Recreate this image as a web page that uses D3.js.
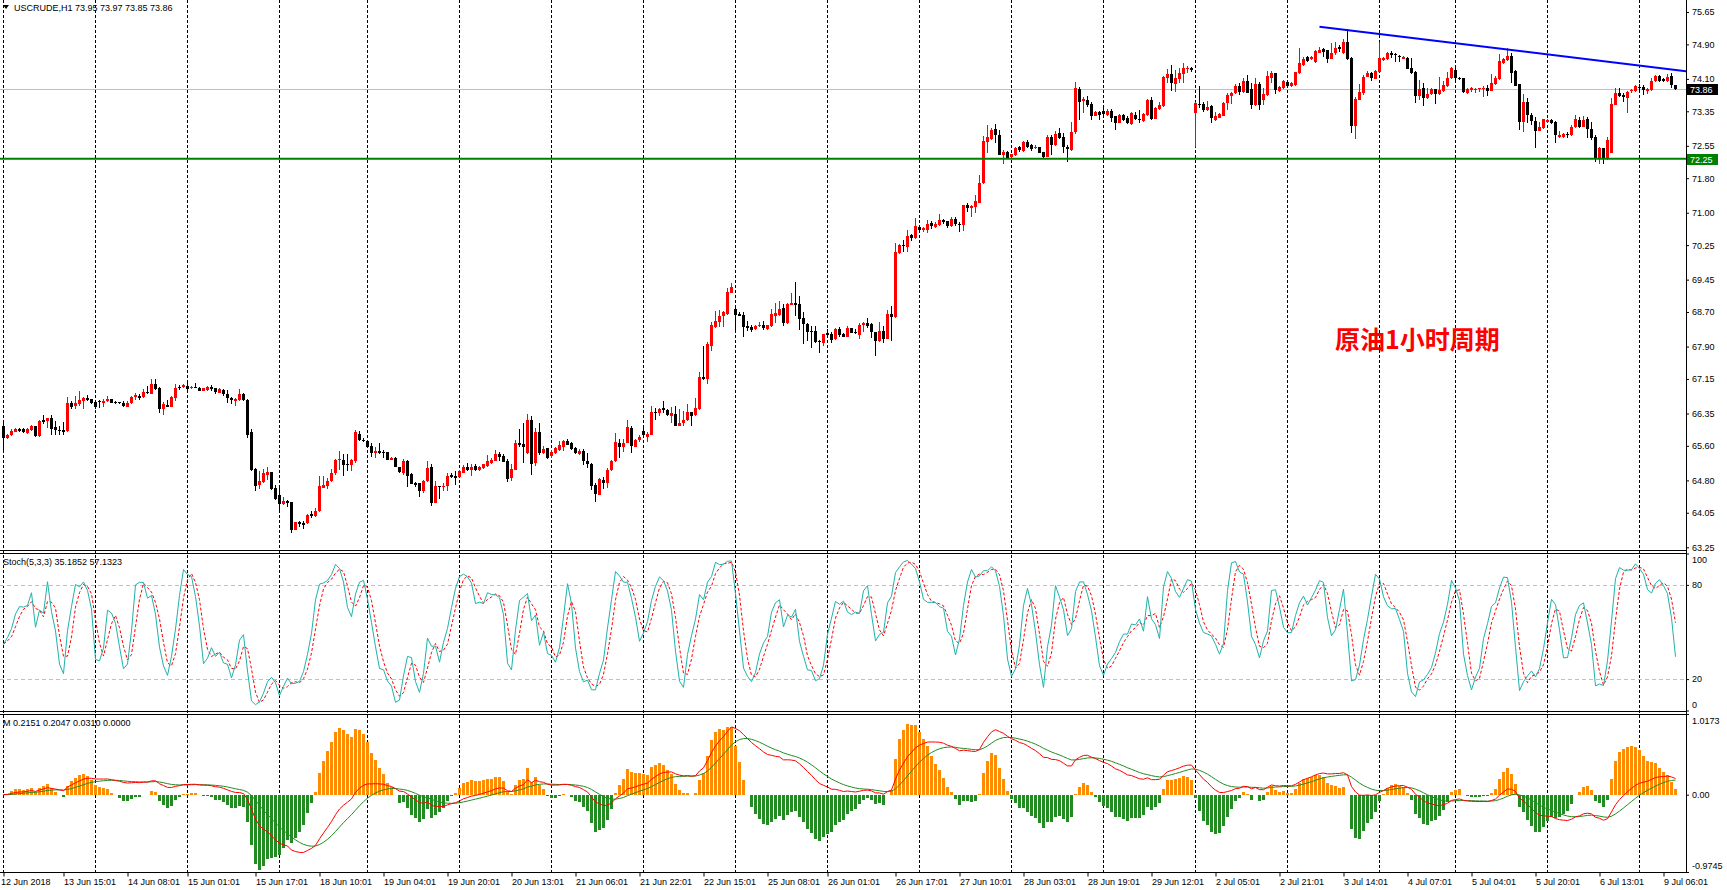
<!DOCTYPE html>
<html>
<head>
<meta charset="utf-8">
<title>USCRUDE H1</title>
<script src="https://cdn.jsdelivr.net/npm/d3@7"></script>
<style>
  html, body { margin: 0; padding: 0; background: #fff; }
  svg { display: block; font-family: "Liberation Sans", Arial, sans-serif; }
</style>
</head>
<body>
<svg id="chart" width="1727" height="890"></svg>
<script>
// Hourly bars (bar 0 = 12 Jun 2018, last = 9 Jul).
var symbol = 'USCRUDE,H1';

var opens = [
  66.05,65.79,65.84,65.92,65.99,65.99,65.90,65.97,66.05,65.82,
  66.20,66.17,66.24,66.04,65.97,65.97,65.94,66.60,66.53,66.57,
  66.65,66.72,66.69,66.62,66.65,66.60,66.65,66.68,66.62,66.61,
  66.60,66.51,66.60,66.73,66.76,66.74,66.85,66.81,67.03,66.94,
  66.46,66.55,66.51,66.72,66.97,66.97,66.99,66.93,66.97,66.94,
  66.88,66.89,66.97,66.93,66.83,66.90,66.79,66.72,66.65,66.67,
  66.81,66.67,65.91,65.06,64.70,64.77,64.93,65.00,64.62,64.46,
  64.25,64.32,64.30,63.64,63.83,63.82,63.81,64.03,63.98,64.08,
  64.63,64.68,64.78,64.96,65.27,65.27,65.17,65.15,65.26,65.88,
  65.74,65.71,65.59,65.43,65.49,65.46,65.45,65.27,65.33,65.11,
  64.98,65.25,64.94,64.74,64.73,64.56,64.78,65.10,64.28,64.67,
  64.65,64.68,64.92,64.90,64.87,64.98,65.12,65.04,65.13,65.04,
  65.09,65.14,65.20,65.26,65.42,65.36,65.25,64.85,65.04,65.67,
  65.65,65.43,66.20,65.21,65.92,65.43,65.54,65.36,65.43,65.50,
  65.58,65.71,65.67,65.56,65.41,65.49,65.26,65.19,64.69,64.46,
  64.82,64.74,65.03,65.24,65.66,65.58,65.67,66.01,65.58,65.73,
  65.94,65.81,65.86,66.39,66.37,66.48,66.43,66.29,66.34,66.07,
  66.12,66.20,66.38,66.31,66.45,67.19,67.15,67.91,68.36,68.48,
  68.61,68.65,69.15,68.77,68.65,68.63,68.38,68.36,68.30,68.37,
  68.40,68.30,68.38,68.61,68.64,68.79,68.44,68.87,68.91,68.89,
  68.57,68.43,68.27,68.26,68.03,67.99,68.21,68.19,68.07,68.31,
  68.18,68.13,68.32,68.24,68.17,68.39,68.45,68.42,68.24,68.03,
  68.26,68.08,68.65,68.59,70.07,70.26,70.21,70.48,70.42,70.68,
  70.60,70.60,70.77,70.67,70.72,70.83,70.80,70.70,70.85,70.75,
  70.72,71.18,71.10,71.14,71.23,71.68,72.65,72.70,72.94,72.80,
  72.34,72.40,72.28,72.33,72.52,72.44,72.63,72.58,72.50,72.52,
  72.41,72.30,72.76,72.56,72.84,72.75,72.53,72.45,72.87,73.87,
  73.59,73.61,73.51,73.24,73.33,73.35,73.27,73.36,73.23,73.09,
  73.26,73.19,73.06,73.26,73.18,73.13,73.26,73.60,73.17,73.40,
  73.47,74.11,74.21,73.98,74.09,74.21,74.34,74.35,73.32,73.53,
  73.53,73.38,73.47,73.15,73.20,73.25,73.55,73.71,73.77,73.94,
  73.80,74.05,73.87,73.50,73.98,73.60,73.73,74.11,74.23,73.82,
  73.88,74.04,73.94,73.96,74.23,74.42,74.60,74.55,74.50,74.71,
  74.79,74.77,74.57,74.69,74.85,74.69,74.95,74.58,73.02,73.61,
  73.77,74.15,74.24,74.10,74.27,74.54,74.56,74.71,74.67,74.63,
  74.56,74.59,74.35,74.27,73.70,73.88,73.65,73.74,73.86,73.74,
  73.82,73.94,74.11,74.31,74.13,74.11,73.77,73.84,73.84,73.86,
  73.86,73.90,73.83,73.98,74.10,74.48,74.54,74.64,74.28,73.98,
  73.10,73.57,73.26,73.13,72.90,72.97,73.11,73.15,73.11,72.76,
  72.76,72.82,72.79,72.98,73.15,72.99,73.16,72.95,72.75,72.24,
  72.49,72.24,72.39,73.50,73.78,73.73,73.65,73.81,73.83,73.92,
  73.92,73.83,73.84,74.06,74.17,74.09,74.06,74.17,73.95
];

var highs = [
  66.20,65.87,65.99,66.02,66.01,66.01,66.02,66.08,66.07,66.20,
  66.31,66.25,66.32,66.17,66.05,66.16,66.74,66.63,66.76,66.87,
  66.74,66.78,66.69,66.65,66.66,66.68,66.76,66.69,66.65,66.62,
  66.63,66.65,66.76,66.82,66.79,66.91,66.99,67.15,67.15,66.96,
  66.61,66.66,66.76,67.03,67.01,67.03,67.05,66.99,67.06,66.96,
  66.95,66.99,67.00,66.95,66.93,66.92,66.89,66.74,66.72,66.92,
  66.83,66.69,66.00,65.08,65.02,65.06,65.10,65.00,64.69,64.69,
  64.41,64.35,64.30,63.84,63.87,63.86,64.02,64.08,64.17,64.90,
  64.91,64.85,65.06,65.29,65.49,65.40,65.41,65.29,65.96,65.95,
  65.78,65.74,65.67,65.57,65.66,65.50,65.46,65.35,65.35,65.12,
  65.30,65.27,64.96,64.76,64.75,64.81,65.26,65.17,64.78,64.67,
  64.74,64.96,64.96,65.02,65.05,65.16,65.21,65.19,65.17,65.14,
  65.19,65.39,65.33,65.50,65.45,65.40,65.30,65.17,65.73,65.99,
  66.12,66.34,66.29,66.01,66.14,65.60,65.56,65.50,65.58,65.71,
  65.73,65.77,65.68,65.57,65.52,65.52,65.44,65.21,64.75,64.85,
  64.89,65.09,65.27,65.89,65.75,65.77,66.20,66.07,65.77,65.85,
  66.08,65.93,66.53,66.48,66.47,66.64,66.45,66.51,66.53,66.45,
  66.40,66.58,66.39,66.72,67.30,67.91,68.01,68.48,68.72,68.74,
  68.72,69.25,69.38,68.84,68.69,68.69,68.49,68.40,68.40,68.48,
  68.49,68.41,68.77,68.91,68.96,68.89,68.92,69.15,69.40,69.06,
  68.69,68.44,68.38,68.38,68.05,68.20,68.30,68.24,68.32,68.35,
  68.22,68.38,68.34,68.31,68.44,68.48,68.56,68.45,68.24,68.48,
  68.38,68.75,68.85,70.29,70.27,70.37,70.60,70.50,70.88,70.72,
  70.68,70.83,70.82,70.79,70.97,70.85,70.81,70.89,70.91,70.79,
  71.19,71.23,71.19,71.41,71.87,72.78,73.03,72.96,73.06,72.91,
  72.45,72.42,72.37,72.52,72.55,72.67,72.69,72.59,72.57,72.53,
  72.41,72.80,72.80,72.89,72.96,72.84,72.57,73.10,74.03,73.92,
  73.69,73.70,73.57,73.36,73.36,73.44,73.40,73.40,73.23,73.29,
  73.29,73.23,73.34,73.34,73.38,73.32,73.64,73.69,73.44,73.57,
  74.17,74.32,74.42,74.31,74.35,74.46,74.41,74.38,73.57,73.94,
  73.57,73.59,73.50,73.33,73.30,73.57,73.78,73.80,73.98,74.00,
  74.11,74.19,74.00,74.11,74.04,73.90,74.29,74.29,74.24,73.94,
  74.07,74.07,74.02,74.27,74.81,74.61,74.63,74.64,74.77,74.85,
  74.81,74.78,74.94,74.95,74.89,75.02,75.25,74.60,73.67,73.99,
  74.19,74.28,74.27,74.30,74.96,74.61,74.73,74.75,74.71,74.65,
  74.64,74.61,74.58,74.29,74.07,74.00,73.88,73.90,73.86,74.15,
  74.05,74.27,74.38,74.42,74.15,74.13,73.88,73.92,73.90,73.90,
  73.94,73.96,74.21,74.17,74.68,74.58,74.81,74.69,74.31,73.99,
  73.75,73.65,73.30,73.22,73.11,73.18,73.16,73.17,73.12,72.89,
  72.85,72.88,73.03,73.26,73.21,73.23,73.21,73.11,72.80,72.53,
  72.51,72.76,73.65,73.90,73.90,73.77,73.83,73.87,73.96,73.98,
  73.96,73.90,74.13,74.19,74.18,74.12,74.21,74.24,73.97
];

var lows = [
  65.49,65.77,65.83,65.91,65.93,65.90,65.88,65.95,65.81,65.81,
  66.10,66.01,65.85,65.85,65.86,65.85,65.93,66.45,66.45,66.53,
  66.45,66.64,66.57,66.45,66.48,66.51,66.61,66.59,66.57,66.58,
  66.50,66.49,66.58,66.67,66.67,66.72,66.81,66.79,66.89,66.35,
  66.32,66.49,66.50,66.64,66.90,66.94,66.89,66.91,66.93,66.86,
  66.87,66.88,66.88,66.79,66.82,66.76,66.60,66.58,66.53,66.65,
  66.64,65.79,65.02,64.56,64.61,64.75,64.81,64.58,64.35,64.08,
  64.22,64.19,63.57,63.64,63.73,63.68,63.79,63.93,63.95,64.06,
  64.62,64.59,64.76,64.93,65.04,64.91,65.02,65.02,65.20,65.71,
  65.69,65.57,65.35,65.33,65.40,65.31,65.27,65.27,65.10,64.96,
  64.93,64.65,64.71,64.64,64.41,64.50,64.76,64.21,64.27,64.37,
  64.55,64.56,64.86,64.69,64.87,64.96,65.01,64.91,65.02,65.02,
  65.07,65.10,65.19,65.24,65.25,65.23,64.77,64.79,65.03,65.57,
  65.20,65.41,64.92,65.14,65.39,65.41,65.29,65.33,65.40,65.49,
  65.49,65.61,65.50,65.40,65.38,65.16,65.08,64.58,64.30,64.46,
  64.59,64.62,65.01,65.23,65.33,65.46,65.66,65.43,65.57,65.70,
  65.81,65.70,65.84,66.20,66.30,66.37,66.28,66.14,66.06,66.06,
  66.07,66.18,66.07,66.29,66.43,67.12,67.04,67.80,68.33,68.36,
  68.36,68.63,69.13,68.25,68.60,68.13,68.26,68.24,68.28,68.35,
  68.28,68.28,68.36,68.45,68.61,68.38,68.42,68.86,68.61,68.28,
  67.95,68.03,67.87,67.99,67.76,67.92,68.13,67.99,68.05,68.13,
  68.11,68.11,68.21,68.19,68.07,68.24,68.32,68.10,67.69,68.01,
  67.99,68.07,68.04,68.57,70.04,70.10,70.10,70.35,70.39,70.56,
  70.56,70.54,70.62,70.65,70.70,70.75,70.65,70.68,70.70,70.56,
  70.58,71.02,70.91,71.00,71.22,71.67,72.38,72.69,72.61,72.33,
  72.14,72.25,72.26,72.32,72.41,72.41,72.49,72.44,72.47,72.38,
  72.26,72.28,72.34,72.55,72.70,72.39,72.18,72.44,72.82,73.15,
  73.30,73.46,73.15,73.23,73.15,73.24,73.25,73.11,72.92,73.07,
  73.12,73.06,73.03,73.15,73.09,73.10,73.25,73.15,73.16,73.38,
  73.46,74.00,73.82,73.80,74.01,74.01,74.23,74.27,72.53,73.42,
  73.33,73.36,73.09,73.13,73.19,73.24,73.38,73.51,73.74,73.73,
  73.77,73.77,73.40,73.47,73.38,73.50,73.71,74.00,73.74,73.80,
  73.87,73.90,73.92,73.94,74.21,74.41,74.50,74.53,74.48,74.69,
  74.61,74.46,74.56,74.65,74.73,74.68,74.54,72.85,72.71,73.60,
  73.73,74.14,74.06,74.09,74.25,74.52,74.54,74.59,74.50,74.50,
  74.55,74.32,74.21,73.55,73.61,73.47,73.63,73.73,73.53,73.73,
  73.80,73.92,74.10,74.06,74.07,73.78,73.75,73.80,73.78,73.80,
  73.67,73.70,73.81,73.95,74.07,74.45,74.52,74.00,73.94,72.92,
  72.88,73.07,73.03,72.51,72.89,72.95,73.07,73.05,72.62,72.74,
  72.74,72.74,72.78,72.96,72.96,72.98,72.72,72.68,72.18,72.14,
  72.14,72.22,72.38,73.49,73.67,73.57,73.32,73.78,73.80,73.77,
  73.73,73.74,73.83,74.04,74.04,74.04,74.04,73.90,73.85
];

var closes = [
  65.79,65.85,65.94,65.99,65.95,65.91,66.00,66.05,65.82,66.18,
  66.15,66.24,65.99,65.97,65.95,65.93,66.60,66.51,66.60,66.66,
  66.72,66.67,66.59,66.50,66.63,66.65,66.69,66.60,66.59,66.59,
  66.52,66.60,66.73,66.78,66.72,66.85,66.82,67.03,66.91,66.46,
  66.57,66.51,66.74,66.94,66.93,67.02,66.92,66.97,66.96,66.88,
  66.94,66.96,66.92,66.84,66.91,66.79,66.70,66.66,66.69,66.81,
  66.66,65.86,65.03,64.68,64.79,64.96,65.00,64.59,64.36,64.26,
  64.32,64.27,63.66,63.84,63.78,63.77,64.00,63.97,64.09,64.67,
  64.69,64.79,64.97,65.27,65.29,65.16,65.15,65.27,65.91,65.74,
  65.71,65.58,65.43,65.48,65.44,65.44,65.27,65.33,65.11,64.99,
  65.25,64.91,64.72,64.69,64.55,64.79,65.09,64.28,64.67,64.65,
  64.68,64.90,64.88,64.86,65.02,65.12,65.04,65.11,65.04,65.12,
  65.17,65.25,65.27,65.41,65.35,65.23,64.83,65.06,65.66,65.63,
  65.57,66.20,65.18,65.92,65.43,65.53,65.33,65.45,65.56,65.62,
  65.71,65.63,65.53,65.44,65.49,65.26,65.18,64.67,64.48,64.84,
  64.73,65.05,65.25,65.69,65.58,65.67,66.04,65.60,65.73,65.81,
  65.84,65.88,66.38,66.37,66.45,66.43,66.32,66.36,66.07,66.14,
  66.21,66.39,66.30,66.48,67.19,67.16,67.96,68.40,68.49,68.61,
  68.71,69.17,69.29,68.62,68.60,68.36,68.34,68.28,68.38,68.39,
  68.32,68.40,68.66,68.68,68.77,68.45,68.89,68.90,68.87,68.55,
  68.43,68.24,68.23,68.01,68.00,68.19,68.17,68.05,68.31,68.17,
  68.13,68.34,68.22,68.21,68.40,68.44,68.38,68.24,68.03,68.26,
  68.08,68.65,68.59,70.10,70.25,70.23,70.46,70.41,70.69,70.60,
  70.65,70.74,70.69,70.75,70.83,70.79,70.69,70.85,70.73,70.73,
  71.18,71.12,71.15,71.27,71.69,72.66,72.75,72.92,72.79,72.34,
  72.41,72.26,72.35,72.50,72.45,72.65,72.53,72.47,72.53,72.39,
  72.28,72.75,72.57,72.82,72.74,72.53,72.48,72.87,73.88,73.57,
  73.64,73.50,73.25,73.33,73.26,73.28,73.36,73.20,73.09,73.26,
  73.15,73.07,73.30,73.16,73.15,73.29,73.60,73.17,73.43,73.50,
  74.15,74.21,74.00,74.11,74.24,74.36,74.36,74.31,73.55,73.51,
  73.38,73.46,73.19,73.23,73.28,73.55,73.73,73.78,73.94,73.80,
  74.05,73.78,73.50,73.98,73.50,73.75,74.17,74.23,73.84,73.91,
  74.05,73.94,74.01,74.25,74.46,74.55,74.52,74.61,74.75,74.78,
  74.72,74.56,74.71,74.81,74.80,74.96,74.56,73.02,73.63,73.79,
  74.15,74.24,74.11,74.28,74.58,74.58,74.71,74.65,74.65,74.60,
  74.61,74.33,74.23,73.70,73.87,73.65,73.74,73.86,73.74,73.84,
  73.96,74.11,74.35,74.11,74.11,73.79,73.86,73.89,73.87,73.88,
  73.90,73.83,74.01,74.11,74.52,74.56,74.63,74.23,73.94,73.10,
  73.56,73.26,73.12,72.90,72.99,73.16,73.15,73.09,72.79,72.81,
  72.82,72.79,72.99,73.16,72.98,73.15,72.95,72.73,72.24,72.49,
  72.24,72.68,73.52,73.78,73.70,73.67,73.80,73.84,73.94,73.88,
  73.84,73.86,74.06,74.17,74.06,74.06,74.14,73.96,73.86
];

// Day separators (bar index) and time-axis labels.
var gridBars = [0, 23, 46, 69, 91, 114, 137, 160, 183, 206, 229, 252, 275, 298, 321, 344, 363, 386, 409];
var timeBars = [0, 15, 31, 46, 63, 79, 95, 111, 127, 143, 159, 175, 191, 206, 223, 239, 255, 271, 287, 303, 319, 335, 351, 367, 383, 399, 415];
var timeLabels = ['12 Jun 2018', '13 Jun 15:01', '14 Jun 08:01', '15 Jun 01:01', '15 Jun 17:01', '18 Jun 10:01',
  '19 Jun 04:01', '19 Jun 20:01', '20 Jun 13:01', '21 Jun 06:01', '21 Jun 22:01', '22 Jun 15:01', '25 Jun 08:01',
  '26 Jun 01:01', '26 Jun 17:01', '27 Jun 10:01', '28 Jun 03:01', '28 Jun 19:01', '29 Jun 12:01', '2 Jul 05:01',
  '2 Jul 21:01', '3 Jul 14:01', '4 Jul 07:01', '5 Jul 04:01', '5 Jul 20:01', '6 Jul 13:01', '9 Jul 06:01'];

var priceTicks = [75.65, 74.90, 74.10, 73.35, 72.55, 71.80, 71.00, 70.25, 69.45, 68.70, 67.90, 67.15, 66.35, 65.60, 64.80, 64.05, 63.25];
var stochTicks = [100, 80, 20, 0];
var stochLevels = [80, 20];
var macdTicks = [1.0173, 0, -0.9745];

var supportLevel = 72.25;
var trendPoints = [{ bar: 329, price: 75.31 }, { bar: 376, price: 74.78 }];
var stochLegend = 'Stoch(5,3,3) 35.1852 57.1323';
var macdLegend = 'M 0.2151 0.2047 0.0310 0.0000';
var note = '原油1小时周期';

(function () {
    'use strict';

    var AXIS_X = 1686;
    var BAR = 4;
    var FONT = 9;
    var HIST_GAIN = 3.7;   // histogram is drawn larger than the line gap

    var main = { top: 0, bottom: 550 };
    var sto = { top: 553, bottom: 711 };
    var mac = { top: 714, bottom: 872 };

    var n = closes.length;
    var last = n - 1;
    var svg = d3.select('#chart');

    var x = d3.scaleLinear().domain([0, last]).range([3.5, 3.5 + BAR * last]);
    var y = d3.scaleLinear().domain([63.25, 75.65]).range([547.3, 12]);
    var yS = d3.scaleLinear().domain([0, 100]).range([sto.bottom - 0.5, sto.top + 0.5]);
    var yM = d3.scaleLinear().domain([-0.9745, 1.0173]).range([mac.bottom, mac.top]);

    // ---- indicators ------------------------------------------------------
    function stochastic(kPeriod, slowing, dPeriod) {
        var hh = [], ll = [], k = [], d = [];
        for (var i = 0; i < n; i++) {
            var from = Math.max(0, i - kPeriod + 1);
            hh.push(d3.max(highs.slice(from, i + 1)));
            ll.push(d3.min(lows.slice(from, i + 1)));
        }
        for (i = 0; i < n; i++) {
            var num = 0, den = 0;
            for (var j = Math.max(0, i - slowing + 1); j <= i; j++) {
                num += closes[j] - ll[j];
                den += hh[j] - ll[j];
            }
            k.push(den ? num / den * 100 : 100);
        }
        for (i = 0; i < n; i++) {
            d.push(d3.mean(k.slice(Math.max(0, i - dPeriod + 1), i + 1)));
        }
        return { k: k, d: d };
    }

    function ema(values, period) {
        var a = 2 / (period + 1), out = [], prev = values[0];
        values.forEach(function (v) {
            prev = prev + a * (v - prev);
            out.push(prev);
        });
        return out;
    }

    var st = stochastic(5, 3, 3);
    var e12 = ema(closes, 12), e26 = ema(closes, 26);
    var dif = closes.map(function (c, i) { return e12[i] - e26[i]; });
    var dea = ema(dif, 9);
    var hist = dif.map(function (v, i) { return HIST_GAIN * (v - dea[i]); });

    // ---- clips ----------------------------------------------------------
    var defs = svg.append('defs');
    [['clip-main', main], ['clip-sto', sto], ['clip-mac', mac]].forEach(function (c) {
        defs.append('clipPath').attr('id', c[0]).append('rect')
            .attr('x', 0).attr('y', c[1].top).attr('width', AXIS_X).attr('height', c[1].bottom - c[1].top);
    });

    // ---- vertical day grid (behind everything) --------------------------
    svg.append('g').selectAll('line').data(gridBars).join('line')
        .attr('x1', function (d) { return x(d); }).attr('x2', function (d) { return x(d); })
        .attr('y1', 0).attr('y2', mac.bottom)
        .attr('stroke', '#000').attr('stroke-dasharray', '3,2')
        .attr('shape-rendering', 'crispEdges');

    // ---- main pane ------------------------------------------------------
    var gMain = svg.append('g').attr('clip-path', 'url(#clip-main)');

    gMain.append('line')
        .attr('x1', 0).attr('x2', AXIS_X)
        .attr('y1', Math.round(y(closes[last])) + 0.5).attr('y2', Math.round(y(closes[last])) + 0.5)
        .attr('stroke', '#c0c0c0').attr('shape-rendering', 'crispEdges');

    var bars = d3.range(n);
    var candle = gMain.append('g').attr('shape-rendering', 'crispEdges')
        .selectAll('g').data(bars).join('g')
        .attr('fill', function (i) { return closes[i] >= opens[i] ? '#ff0000' : '#000'; })
        .attr('stroke', function (i) { return closes[i] >= opens[i] ? '#ff0000' : '#000'; });
    candle.append('line')
        .attr('x1', function (i) { return x(i); }).attr('x2', function (i) { return x(i); })
        .attr('y1', function (i) { return y(highs[i]); }).attr('y2', function (i) { return y(lows[i]); });
    candle.append('rect')
        .attr('stroke', 'none')
        .attr('x', function (i) { return x(i) - 1.5; })
        .attr('width', 3)
        .attr('y', function (i) { return y(Math.max(opens[i], closes[i])); })
        .attr('height', function (i) { return Math.max(1, Math.abs(y(opens[i]) - y(closes[i]))); });

    gMain.append('line')
        .attr('x1', 0).attr('x2', AXIS_X)
        .attr('y1', y(supportLevel)).attr('y2', y(supportLevel))
        .attr('stroke', '#008000').attr('stroke-width', 2);

    var p0 = trendPoints[0], p1 = trendPoints[1];
    var slope = (p1.price - p0.price) / (p1.bar - p0.bar);
    var endBar = x.invert(AXIS_X);
    gMain.append('line')
        .attr('x1', x(p0.bar)).attr('y1', y(p0.price))
        .attr('x2', x(endBar)).attr('y2', y(p0.price + slope * (endBar - p0.bar)))
        .attr('stroke', '#0000ff').attr('stroke-width', 2);

    svg.append('text')
        .attr('x', 1335).attr('y', 349)
        .attr('font-family', '"Noto Sans CJK SC", sans-serif')
        .attr('font-weight', 'bold').attr('font-size', 25)
        .attr('fill', '#ff0000')
        .text(note);

    svg.append('path').attr('d', 'M3,5 L9,5 L6,9 Z').attr('fill', '#000');
    svg.append('text')
        .attr('x', 14).attr('y', 11).attr('font-size', FONT)
        .text(symbol + '  ' + [opens[last], highs[last], lows[last], closes[last]].map(function (v) { return v.toFixed(2); }).join(' '));

    // ---- stochastic pane ------------------------------------------------
    var gSto = svg.append('g').attr('clip-path', 'url(#clip-sto)');
    gSto.selectAll('line.level').data(stochLevels).join('line')
        .attr('class', 'level')
        .attr('x1', 0).attr('x2', AXIS_X)
        .attr('y1', function (d) { return Math.round(yS(d)) + 0.5; })
        .attr('y2', function (d) { return Math.round(yS(d)) + 0.5; })
        .attr('stroke', '#c0c0c0').attr('stroke-dasharray', '4,3')
        .attr('shape-rendering', 'crispEdges');

    var lineS = function (arr) {
        return d3.line().x(function (v, i) { return x(i); }).y(function (v) { return yS(v); })(arr);
    };
    gSto.append('path').attr('d', lineS(st.d))
        .attr('fill', 'none').attr('stroke', '#ff0000').attr('stroke-dasharray', '3,2');
    gSto.append('path').attr('d', lineS(st.k))
        .attr('fill', 'none').attr('stroke', '#20b2aa');

    svg.append('text').attr('x', 3).attr('y', sto.top + 12).attr('font-size', FONT).text(stochLegend);

    // ---- MACD pane ------------------------------------------------------
    var gMac = svg.append('g').attr('clip-path', 'url(#clip-mac)');
    gMac.append('g').attr('shape-rendering', 'crispEdges')
        .selectAll('rect').data(bars).join('rect')
        .attr('x', function (i) { return x(i) - 1.5; })
        .attr('width', 3)
        .attr('y', function (i) { return Math.min(yM(0), yM(hist[i])); })
        .attr('height', function (i) { return Math.abs(yM(hist[i]) - yM(0)); })
        .attr('fill', function (i) { return hist[i] >= 0 ? '#ff8c00' : '#228b22'; });

    var lineM = function (arr) {
        return d3.line().x(function (v, i) { return x(i); }).y(function (v) { return yM(v); })(arr);
    };
    gMac.append('path').attr('d', lineM(dea)).attr('fill', 'none').attr('stroke', '#228b22');
    gMac.append('path').attr('d', lineM(dif)).attr('fill', 'none').attr('stroke', '#ff0000');

    svg.append('text').attr('x', 3).attr('y', mac.top + 12).attr('font-size', FONT).text(macdLegend);

    // ---- frames ---------------------------------------------------------
    var frame = svg.append('g').attr('stroke', '#000').attr('shape-rendering', 'crispEdges');
    [main.bottom, sto.top, sto.bottom, mac.top, mac.bottom].forEach(function (v) {
        frame.append('line').attr('x1', 0).attr('x2', AXIS_X + 1).attr('y1', v + 0.5).attr('y2', v + 0.5);
    });
    frame.append('line').attr('x1', AXIS_X + 0.5).attr('x2', AXIS_X + 0.5).attr('y1', 0).attr('y2', mac.bottom);

    // ---- axes -----------------------------------------------------------
    function styleAxis(g) {
        g.select('.domain').remove();
        g.selectAll('text').attr('font-size', FONT).attr('font-family', '"Liberation Sans", Arial, sans-serif').attr('fill', '#000');
        g.selectAll('line').attr('stroke', '#000');
    }

    svg.append('g').attr('transform', 'translate(' + AXIS_X + ',0)')
        .call(d3.axisRight(y).tickValues(priceTicks).tickSize(3).tickFormat(function (d) { return d.toFixed(2); }))
        .call(styleAxis);

    function clampLabels(scale, pane) {
        return function (g) {
            g.selectAll('.tick text').attr('y', function (d) {
                var p = scale(d);
                return Math.max(pane.top + 6.5, Math.min(pane.bottom - 6.5, p)) - p;
            });
        };
    }

    svg.append('g').attr('transform', 'translate(' + AXIS_X + ',0)')
        .call(d3.axisRight(yS).tickValues(stochTicks).tickSize(3).tickFormat(d3.format('d')))
        .call(styleAxis).call(clampLabels(yS, sto));

    svg.append('g').attr('transform', 'translate(' + AXIS_X + ',0)')
        .call(d3.axisRight(yM).tickValues(macdTicks).tickSize(3)
            .tickFormat(function (d) { return d === 0 ? '0.00' : d.toFixed(4); }))
        .call(styleAxis).call(clampLabels(yM, mac));

    var xAxis = svg.append('g').attr('transform', 'translate(0,' + (mac.bottom + 0.5) + ')')
        .call(d3.axisBottom(x).tickValues(timeBars).tickSize(4)
            .tickFormat(function (d, i) { return timeLabels[i]; }))
        .call(styleAxis);
    xAxis.selectAll('.tick text').attr('text-anchor', 'start')
        .attr('x', function (d) { return d === 0 ? -3 : 0; })
        .attr('y', 6).attr('dy', '0.71em');

    // ---- price tags on the axis -----------------------------------------
    function tag(value, fill) {
        var cy = Math.round(y(value));
        svg.append('rect').attr('x', AXIS_X + 1).attr('y', cy - 5).attr('width', 31).attr('height', 11).attr('fill', fill);
        svg.append('text').attr('x', AXIS_X + 4).attr('y', cy + 3.5).attr('font-size', FONT)
            .attr('fill', '#fff').text(value.toFixed(2));
    }
    tag(closes[last], '#000');
    tag(supportLevel, '#008000');
})();
</script>
</body>
</html>
